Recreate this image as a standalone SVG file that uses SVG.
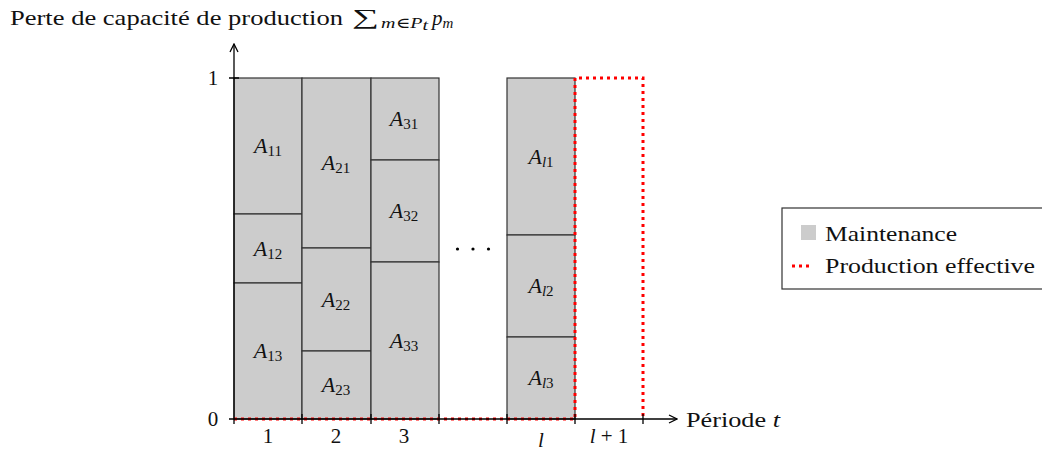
<svg xmlns="http://www.w3.org/2000/svg" width="1042" height="450" viewBox="0 0 1042 450">
<defs>
<marker id="arr" viewBox="0 0 10 10" refX="9" refY="5" markerWidth="10" markerHeight="10" markerUnits="userSpaceOnUse" orient="auto">
<path d="M1,1 L9,5 L1,9" fill="none" stroke="#000" stroke-width="1.3"/>
</marker>
</defs>
<style>
text{font-family:"Liberation Serif","DejaVu Serif",serif;font-size:21px;fill:#111}
.lbl{font-style:italic;text-anchor:middle;font-size:22px}
.sub{font-size:15px;font-style:normal}
.subi{font-size:15px;font-style:italic}
.it{font-style:italic}
.box{fill:#cccccc;stroke:#333;stroke-width:1.2}
.ax{stroke:#000;stroke-width:1.3;fill:none}
.red{stroke:#ff0000;stroke-width:3;stroke-dasharray:3 4;fill:none}
.tk{text-anchor:middle}
</style>
<rect width="1042" height="450" fill="#fff"/>
<g id="title">
<text x="10" y="25" textLength="333" lengthAdjust="spacingAndGlyphs">Perte de capacité de production</text>
<text x="352" y="24" font-size="20" textLength="27" lengthAdjust="spacingAndGlyphs">∑</text>
<text x="381" y="28" textLength="47" lengthAdjust="spacingAndGlyphs"><tspan class="subi">m</tspan><tspan class="sub">∈</tspan><tspan class="subi">P</tspan><tspan class="subi" font-size="11" dy="2">t</tspan></text>
<text x="432" y="25" class="it">p<tspan class="subi" dy="3">m</tspan></text>
</g>

<g id="col1">
<rect class="box" x="234" y="78" width="68" height="136"/>
<rect class="box" x="234" y="214" width="68" height="69"/>
<rect class="box" x="234" y="283" width="68" height="136"/>
<text class="lbl" x="268" y="153">A<tspan class="sub" dy="3">11</tspan></text>
<text class="lbl" x="268" y="256">A<tspan class="sub" dy="3">12</tspan></text>
<text class="lbl" x="268" y="358">A<tspan class="sub" dy="3">13</tspan></text>
</g>
<g id="col2">
<rect class="box" x="302" y="78" width="69" height="170"/>
<rect class="box" x="302" y="248" width="69" height="103"/>
<rect class="box" x="302" y="351" width="69" height="68"/>
<text class="lbl" x="336" y="170">A<tspan class="sub" dy="3">21</tspan></text>
<text class="lbl" x="336" y="307">A<tspan class="sub" dy="3">22</tspan></text>
<text class="lbl" x="336" y="392">A<tspan class="sub" dy="3">23</tspan></text>
</g>
<g id="col3">
<rect class="box" x="371" y="78" width="68" height="82"/>
<rect class="box" x="371" y="160" width="68" height="102"/>
<rect class="box" x="371" y="262" width="68" height="157"/>
<text class="lbl" x="404" y="126">A<tspan class="sub" dy="3">31</tspan></text>
<text class="lbl" x="404" y="218">A<tspan class="sub" dy="3">32</tspan></text>
<text class="lbl" x="404" y="348">A<tspan class="sub" dy="3">33</tspan></text>
</g>
<g id="coll">
<rect class="box" x="507" y="78" width="68" height="157"/>
<rect class="box" x="507" y="235" width="68" height="102"/>
<rect class="box" x="507" y="337" width="68" height="82"/>
<text class="lbl" x="541" y="164">A<tspan class="subi" dy="3">l</tspan><tspan class="sub">1</tspan></text>
<text class="lbl" x="541" y="293">A<tspan class="subi" dy="3">l</tspan><tspan class="sub">2</tspan></text>
<text class="lbl" x="541" y="385">A<tspan class="subi" dy="3">l</tspan><tspan class="sub">3</tspan></text>
</g>
<g id="dots" fill="#000">
<circle cx="457.5" cy="249" r="1.6"/>
<circle cx="473" cy="249" r="1.6"/>
<circle cx="488.5" cy="249" r="1.6"/>
</g>

<g id="connectors">
<path class="red" d="M234,419 H575 V78 H643 V419"/>
<line class="ax" x1="229" y1="419" x2="677" y2="419" marker-end="url(#arr)"/>
<line class="ax" x1="234" y1="424" x2="234" y2="44" marker-end="url(#arr)"/>
<path class="ax" d="M229,78 H239 M302,414 V424 M371,414 V424 M439,414 V424 M507,414 V424 M575,414 V424 M643,414 V424"/>
</g>

<g id="axislabels">
<text x="213" y="426" class="tk">0</text>
<text x="213" y="85" class="tk">1</text>
<text x="268" y="443" class="tk">1</text>
<text x="336" y="443" class="tk">2</text>
<text x="404" y="443" class="tk">3</text>
<text x="541" y="447" class="tk it">l</text>
<text x="609" y="443" class="tk"><tspan class="it">l</tspan> + 1</text>
<text x="686" y="427" textLength="94" lengthAdjust="spacingAndGlyphs">Période <tspan class="it">t</tspan></text>
</g>

<g id="legend">
<rect x="782" y="208" width="265" height="81" fill="#fff" stroke="#333" stroke-width="1.2"/>
<rect x="801" y="225" width="15" height="15" fill="#cccccc"/>
<text x="825" y="241" textLength="132" lengthAdjust="spacingAndGlyphs">Maintenance</text>
<line class="red" x1="792" y1="266" x2="812" y2="266"/>
<text x="825" y="273" textLength="210" lengthAdjust="spacingAndGlyphs">Production effective</text>
</g>
</svg>
